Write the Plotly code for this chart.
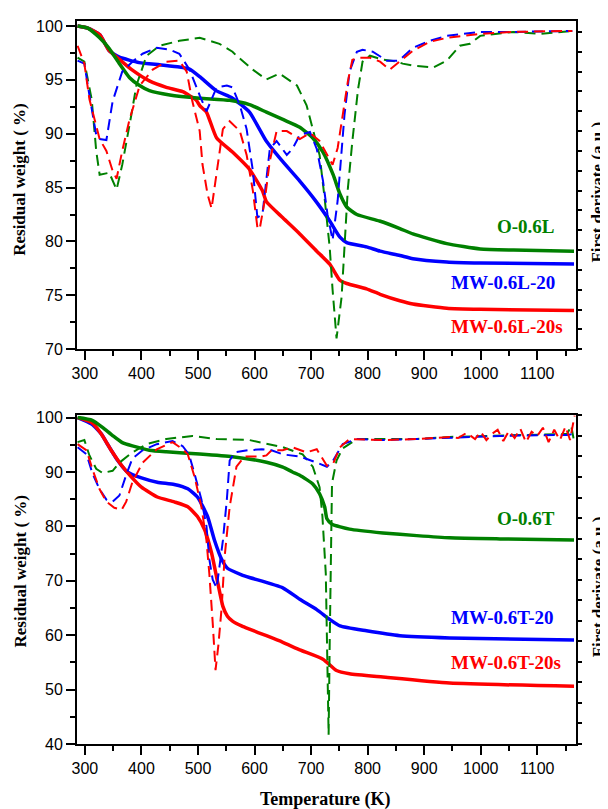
import plotly.graph_objects as go

# ---------------- Top panel (L series) : TG curves (Residual weight, %) ----------------
tL_O = [287, 305, 326, 343, 361, 379, 396, 414, 450, 503, 556, 591, 621, 651, 680, 703, 721, 739, 751, 763, 781, 821, 857, 880, 940, 999, 1058, 1165]
wL_O = [100.0, 99.8, 98.9, 97.9, 96.5, 95.2, 94.5, 94.0, 93.6, 93.3, 93.1, 92.7, 92.0, 91.3, 90.6, 89.6, 88.3, 86.2, 84.4, 83.2, 82.5, 81.9, 81.2, 80.7, 79.8, 79.3, 79.2, 79.1]

tL_MW = [287, 305, 326, 343, 361, 396, 432, 467, 485, 503, 532, 561, 591, 621, 650, 680, 709, 733, 751, 763, 798, 822, 857, 880, 940, 999, 1165]
wL_MW = [100.0, 99.8, 99.2, 97.7, 97.1, 96.6, 96.4, 96.2, 96.0, 95.3, 94.0, 93.3, 92.0, 89.3, 87.4, 85.6, 83.7, 81.9, 80.4, 79.9, 79.5, 79.1, 78.7, 78.4, 78.1, 78.0, 77.9]

tL_MWs = [287, 305, 326, 343, 361, 384, 414, 444, 473, 497, 503, 515, 533, 561, 591, 614, 621, 650, 680, 710, 733, 751, 763, 798, 822, 857, 880, 940, 999, 1165]
wL_MWs = [100.0, 99.8, 99.2, 97.7, 96.9, 95.9, 94.9, 94.3, 93.9, 93.1, 92.6, 92.0, 89.6, 88.3, 86.7, 84.7, 83.7, 82.2, 80.7, 79.1, 77.9, 76.4, 76.1, 75.6, 75.1, 74.5, 74.2, 73.8, 73.7, 73.6]

# Top panel : first-derivative curves (a.u., right axis)
dtL_O = [287, 299, 312, 320, 326, 343, 356, 366, 382, 391, 409, 432, 467, 503, 538, 561, 568, 597, 621, 644, 675, 692, 703, 715, 724, 733, 738, 745, 754, 759, 765, 773, 783, 791, 804, 827, 852, 862, 880, 916, 940, 963, 981, 999, 1057, 1105, 1128, 1162]
dL_O = [14.7, 14.5, 12.6, 10.0, 8.8, 8.9, 8.05, 9.3, 11.8, 13.3, 14.8, 15.3, 15.55, 15.7, 15.4, 15.0, 14.8, 14.1, 13.6, 13.9, 13.3, 12.3, 11.1, 9.8, 7.6, 5.1, 3.0, 0.55, 2.65, 5.1, 8.1, 10.5, 13.1, 14.5, 14.8, 14.6, 14.5, 14.4, 14.3, 14.2, 14.55, 15.3, 15.4, 15.8, 16.0, 15.9, 15.95, 16.05]

dtL_MW = [287, 299, 308, 320, 326, 338, 349, 366, 384, 402, 427, 450, 467, 485, 503, 515, 533, 551, 561, 574, 586, 597, 605, 614, 627, 639, 657, 667, 680, 698, 710, 721, 729, 738, 747, 754, 759, 768, 781, 791, 809, 834, 852, 857, 880, 910, 940, 999, 1057, 1162]
dL_MW = [14.55, 14.4, 12.8, 10.8, 10.6, 10.55, 12.5, 14.0, 14.5, 14.9, 15.2, 15.1, 14.9, 14.1, 12.8, 12.0, 13.2, 13.3, 13.2, 12.3, 11.1, 9.0, 6.65, 6.8, 10.1, 10.5, 9.8, 10.1, 10.8, 10.95, 10.1, 8.5, 6.8, 5.5, 7.5, 9.8, 11.8, 14.0, 15.0, 15.1, 15.0, 14.55, 14.55, 14.6, 15.2, 15.55, 15.8, 16.0, 16.0, 16.05]

dtL_MWs = [287, 299, 308, 326, 338, 349, 356, 366, 379, 397, 420, 444, 467, 480, 490, 503, 508, 517, 524, 533, 544, 556, 574, 586, 597, 605, 609, 618, 627, 639, 657, 680, 698, 715, 728, 738, 747, 756, 765, 773, 786, 804, 822, 839, 857, 880, 910, 940, 999, 1057, 1162]
dL_MWs = [15.3, 14.4, 12.6, 10.6, 10.0, 9.0, 8.6, 10.0, 11.6, 13.3, 14.1, 14.5, 14.55, 14.0, 12.5, 11.0, 9.3, 7.8, 7.1, 8.8, 11.1, 11.5, 11.0, 9.8, 8.0, 6.15, 6.05, 7.5, 9.5, 11.0, 11.0, 10.6, 10.9, 10.5, 9.8, 9.3, 10.15, 11.8, 13.5, 14.6, 14.7, 14.7, 14.5, 14.1, 14.5, 15.05, 15.5, 15.7, 15.9, 16.0, 16.05]

# ---------------- Bottom panel (T series) : TG curves ----------------
tT_O = [287, 313, 331, 349, 366, 384, 414, 444, 503, 561, 621, 650, 667, 680, 703, 715, 724, 728, 737, 768, 827, 887, 945, 1034, 1165]
wT_O = [100.0, 99.5, 98.2, 96.7, 95.4, 94.8, 94.0, 93.7, 93.3, 92.8, 91.8, 90.9, 90.0, 89.4, 87.8, 86.0, 83.6, 81.4, 80.4, 79.5, 78.8, 78.3, 77.9, 77.7, 77.5]

tT_MW = [287, 312, 329, 340, 358, 375, 400, 428, 458, 482, 499, 517, 529, 542, 552, 577, 591, 650, 680, 710, 733, 751, 798, 857, 945, 1165]
wT_MW = [100.0, 98.8, 97.0, 95.1, 92.1, 90.0, 88.9, 88.1, 87.7, 86.9, 85.4, 81.8, 77.5, 73.9, 72.3, 71.1, 70.6, 68.7, 66.6, 64.7, 62.9, 61.7, 60.8, 59.9, 59.5, 59.1]

tT_MWs = [287, 312, 329, 347, 365, 382, 400, 428, 458, 482, 499, 512, 524, 535, 544, 552, 561, 577, 591, 621, 650, 680, 721, 745, 768, 827, 945, 1165]
wT_MWs = [100.0, 99.1, 97.0, 93.9, 91.2, 89.1, 87.2, 85.4, 84.5, 83.6, 81.8, 79.3, 75.1, 69.6, 65.3, 63.5, 62.6, 61.7, 61.1, 59.9, 58.7, 57.3, 55.6, 53.5, 52.9, 52.3, 51.2, 50.6]

# Bottom panel : first-derivative curves (a.u., right axis)
dtT_O = [287, 299, 308, 320, 331, 349, 361, 384, 409, 444, 490, 533, 591, 650, 685, 703, 715, 720, 726, 728, 731, 733, 735, 737, 745, 756, 781, 827, 887, 945, 1034, 1153, 1160, 1166]
dT_O = [14.7, 14.8, 14.05, 13.4, 13.2, 13.3, 13.7, 14.2, 14.6, 14.85, 15.0, 14.85, 14.8, 14.45, 14.1, 13.5, 12.5, 11.1, 8.3, 5.1, 0.45, 5.1, 10.0, 12.7, 13.8, 14.4, 14.85, 14.85, 14.85, 14.95, 15.0, 15.1, 15.5, 14.6]

dtT_MW = [287, 303, 313, 326, 338, 349, 361, 373, 384, 402, 427, 455, 473, 484, 494, 506, 515, 520, 526, 533, 538, 544, 551, 556, 565, 588, 613, 630, 650, 680, 710, 728, 739, 756, 781, 827, 887, 945, 1034, 1153, 1165]
dT_MW = [14.45, 14.1, 13.2, 12.4, 11.9, 11.8, 12.1, 13.1, 13.9, 14.3, 14.6, 14.75, 14.5, 14.1, 13.15, 11.9, 10.6, 9.0, 8.0, 7.6, 8.65, 9.9, 11.9, 13.8, 14.2, 14.3, 14.35, 14.3, 14.1, 14.0, 13.7, 13.5, 13.8, 14.6, 14.85, 14.8, 14.85, 14.9, 15.0, 15.05, 15.1]

dtT_MWs = [287, 303, 313, 326, 338, 352, 365, 373, 384, 402, 427, 455, 473, 482, 494, 506, 515, 520, 526, 531, 536, 542, 547, 556, 568, 582, 591, 613, 621, 630, 650, 667, 692, 710, 728, 739, 751, 768, 827, 887, 945,
           960, 975, 990, 1000, 1010, 1020, 1030, 1040, 1050, 1060, 1070, 1080, 1090, 1100, 1110, 1120, 1130, 1140, 1150, 1158, 1166]
dT_MWs = [14.6, 14.3, 13.4, 12.4, 11.8, 11.5, 11.4, 11.8, 12.75, 13.7, 14.35, 14.7, 14.35, 14.1, 13.0, 11.55, 9.9, 8.3, 5.9, 3.6, 4.8, 6.7, 9.1, 11.55, 13.5, 14.0, 14.0, 14.0, 14.05, 14.3, 14.3, 14.45, 14.2, 14.35, 13.55, 13.65, 14.45, 14.85, 14.8, 14.85, 14.95,
          14.9, 15.15, 14.85, 15.2, 14.8, 15.1, 15.3, 14.75, 15.25, 14.9, 15.35, 14.7, 15.2, 15.0, 15.4, 14.7, 15.3, 14.8, 15.45, 14.8, 16.0]

# Labels
labels_top = ["O-0.6L", "MW-0.6L-20", "MW-0.6L-20s"]
labels_bot = ["O-0.6T", "MW-0.6T-20", "MW-0.6T-20s"]

GREEN = "#008000"
BLUE = "#0000ff"
RED = "#ff0000"

fig = go.Figure()

def dashed(x, y, color, xa, ya):
    fig.add_trace(go.Scatter(x=x, y=y, mode="lines", xaxis=xa, yaxis=ya,
                             line=dict(color=color, width=2, dash="11px,6px"),
                             hoverinfo="skip"))

def solid(x, y, color, xa, ya):
    fig.add_trace(go.Scatter(x=x, y=y, mode="lines", xaxis=xa, yaxis=ya,
                             line=dict(color=color, width=3.5, shape="spline", smoothing=0.5),
                             hoverinfo="skip"))

# top panel
dashed(dtL_O, dL_O, GREEN, "x", "y2")
dashed(dtL_MW, dL_MW, BLUE, "x", "y2")
dashed(dtL_MWs, dL_MWs, RED, "x", "y2")
solid(tL_MW, wL_MW, BLUE, "x", "y")
solid(tL_MWs, wL_MWs, RED, "x", "y")
solid(tL_O, wL_O, GREEN, "x", "y")

# bottom panel
dashed(dtT_O, dT_O, GREEN, "x2", "y4")
dashed(dtT_MW, dT_MW, BLUE, "x2", "y4")
dashed(dtT_MWs, dT_MWs, RED, "x2", "y4")
solid(tT_MW, wT_MW, BLUE, "x2", "y3")
solid(tT_MWs, wT_MWs, RED, "x2", "y3")
solid(tT_O, wT_O, GREEN, "x2", "y3")

tickfont = dict(family="Liberation Sans, Arial, sans-serif", size=16, color="black")
xcommon = dict(range=[286, 1168.5], tick0=300, dtick=100, ticks="outside", ticklen=9, tickwidth=1.5,
               tickcolor="black",
               minor=dict(tick0=300, dtick=50, ticks="outside", ticklen=5, tickwidth=1.5, tickcolor="black"),
               showline=True, linewidth=2, linecolor="black", mirror=True,
               showgrid=False, zeroline=False, tickfont=tickfont, domain=[0, 1])
ycommon = dict(ticks="outside", ticklen=9, tickwidth=1.5, tickcolor="black",
               showline=True, linewidth=2, linecolor="black",
               showgrid=False, zeroline=False, tickfont=tickfont)
rcommon = dict(side="right", ticks="outside", ticklen=4, tickwidth=1.5, tickcolor="black",
               showticklabels=False, showline=True, linewidth=2, linecolor="black",
               showgrid=False, zeroline=False, tick0=0, dtick=1)

# the page body adds an 8px margin, so the figure is 8px smaller than the window
fig.update_layout(
    width=600, height=801,
    margin=dict(l=69, r=32, t=7, b=65),
    paper_bgcolor="white", plot_bgcolor="white",
    showlegend=False,
    xaxis=dict(anchor="y", **xcommon),
    yaxis=dict(domain=[0.546, 1.0], anchor="x", range=[70, 100.46], tick0=70, dtick=5,
               minor=dict(dtick=2.5, ticks="outside", ticklen=5, tickwidth=1.5, tickcolor="black"),
               **ycommon),
    yaxis2=dict(overlaying="y", anchor="x", range=[0, 16.55], **rcommon),
    xaxis2=dict(anchor="y3", **xcommon),
    yaxis3=dict(domain=[0, 0.4545], anchor="x2", range=[40, 100.4], tick0=40, dtick=10,
                minor=dict(dtick=5, ticks="outside", ticklen=5, tickwidth=1.5, tickcolor="black"),
                **ycommon),
    yaxis4=dict(overlaying="y3", anchor="x2", range=[0, 16.0], **rcommon),
)

serif_b = "Liberation Serif, Times New Roman, serif"
ann = []
# axis titles
for yc in (0.7805, 0.2387):
    ann.append(dict(text="<b>Residual weight ( %)</b>", xref="paper", yref="paper", x=-0.114, y=yc,
                    textangle=-90, showarrow=False, xanchor="center", yanchor="middle",
                    font=dict(family=serif_b, size=17, color="black")))
for yc in (0.764, 0.218):
    ann.append(dict(text="<b>First derivate (a.u.)</b>", xref="paper", yref="paper", x=1.044, y=yc,
                    textangle=-90, showarrow=False, xanchor="center", yanchor="middle",
                    font=dict(family=serif_b, size=17, color="black")))
ann.append(dict(text="<b>Temperature (K)</b>", xref="paper", yref="paper", x=0.497, y=-0.0768,
                showarrow=False, xanchor="center", yanchor="middle",
                font=dict(family=serif_b, size=18, color="black")))

# series labels
lab_font = lambda c: dict(family=serif_b, size=19, color=c)
ann += [
    dict(text="<b>%s</b>" % labels_top[0], xref="x", yref="y", x=1135, y=81.4, xanchor="right", yanchor="middle", showarrow=False, font=lab_font(GREEN)),
    dict(text="<b>%s</b>" % labels_top[1], xref="x", yref="y", x=944, y=76.2, xanchor="left", yanchor="middle", showarrow=False, font=lab_font(BLUE)),
    dict(text="<b>%s</b>" % labels_top[2], xref="x", yref="y", x=944, y=72.1, xanchor="left", yanchor="middle", showarrow=False, font=lab_font(RED)),
    dict(text="<b>%s</b>" % labels_bot[0], xref="x2", yref="y3", x=1135, y=81.4, xanchor="right", yanchor="middle", showarrow=False, font=lab_font(GREEN)),
    dict(text="<b>%s</b>" % labels_bot[1], xref="x2", yref="y3", x=944, y=63.2, xanchor="left", yanchor="middle", showarrow=False, font=lab_font(BLUE)),
    dict(text="<b>%s</b>" % labels_bot[2], xref="x2", yref="y3", x=944, y=55.0, xanchor="left", yanchor="middle", showarrow=False, font=lab_font(RED)),
]
fig.update_layout(annotations=ann)

fig.write_html("out.html")
